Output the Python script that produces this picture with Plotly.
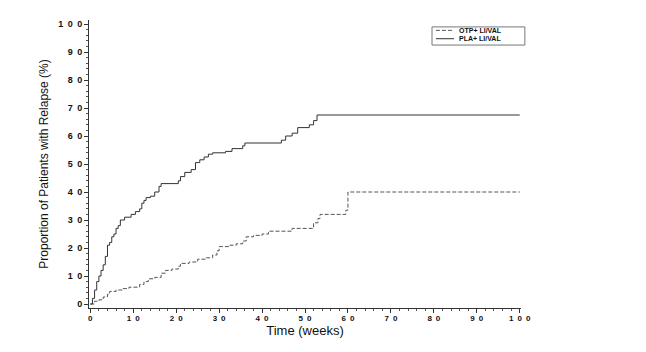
import plotly.graph_objects as go

# Kaplan-Meier style cumulative relapse (% of patients), step functions
pla_weeks = [0, 0.5, 1, 1.5, 2, 2.5, 3, 3.5, 4, 4.5, 5, 5.5, 6, 6.5, 7, 8, 9.5, 10.5, 11.5, 12,
             12.5, 13, 14, 15, 16, 16.5, 20.5, 21, 22, 23.5, 24.5, 25.5, 26.5, 27.5, 28.5, 31.5,
             33, 35.5, 36, 44.5, 45.5, 47, 48.3, 51, 52, 52.8, 100]
pla_pct = [0, 2, 5, 8, 10, 12, 14, 17, 21, 22, 24, 25, 27, 28, 30, 31, 32, 33, 34, 36,
           37, 38, 38.5, 40, 42, 43, 44, 45.5, 47, 48, 50.5, 51.5, 52.5, 53.5, 54, 54.5,
           55.5, 56.5, 57.5, 58.5, 60, 61, 63, 64, 65.5, 67.5, 67.5]

otp_weeks = [0, 1, 2, 3, 4, 4.5, 6, 7.5, 9, 11.5, 12.5, 13.5, 15, 16.5, 17.5, 19, 20.5, 21, 23,
             25, 27, 28.5, 29.5, 30, 32.5, 34, 35.5, 36.3, 38, 40, 41.5, 47, 52, 53, 53.5, 59.5,
             60, 100]
otp_pct = [0, 1, 1.5, 2.5, 3.5, 4.5, 5, 5.5, 6, 7, 8, 9, 9.5, 11, 12, 12.5, 13.5, 14.5, 15,
           16, 16.5, 17.5, 19, 20.5, 21, 21.5, 22.5, 24, 24.5, 25, 26, 27, 29, 30.5, 32, 33.5,
           40, 40]

series_names = ["OTP+ LI/VAL", "PLA+ LI/VAL"]
x_ticks = [0, 10, 20, 30, 40, 50, 60, 70, 80, 90, 100]
y_ticks = [0, 10, 20, 30, 40, 50, 60, 70, 80, 90, 100]


def spaced(v):
    # the original renders tick digits letter-spaced
    return "\u2002".join(str(v))


otp_line = dict(color="#555555", width=1, dash="4px,2px")
pla_line = dict(color="#333333", width=1)

fig = go.Figure()
fig.add_trace(go.Scatter(x=otp_weeks, y=otp_pct, mode="lines", line_shape="hv",
                         name=series_names[0], line=otp_line, showlegend=False))
fig.add_trace(go.Scatter(x=pla_weeks, y=pla_pct, mode="lines", line_shape="hv",
                         name=series_names[1], line=pla_line, showlegend=False))

# compact legend box (drawn in paper coordinates)
fig.add_shape(type="rect", xref="paper", yref="paper", x0=0.794, x1=1.009, y0=0.913, y1=0.976,
              line=dict(color="#777777", width=1), fillcolor="white")
legend_rows = [(0.964, otp_line, series_names[0]), (0.935, pla_line, series_names[1])]
for ypos, ln, label in legend_rows:
    fig.add_shape(type="line", xref="paper", yref="paper", x0=0.803, x1=0.845, y0=ypos, y1=ypos,
                  line=ln)
    fig.add_annotation(xref="paper", yref="paper", x=0.852, y=ypos, xanchor="left", yanchor="middle",
                       text=label, showarrow=False,
                       font=dict(family="Liberation Sans, Arial", size=7, color="#111111", weight="bold"))

xtickfont = dict(family="Liberation Sans, Arial", size=8, color="#111111", weight="bold")
ytickfont = dict(family="Liberation Sans, Arial", size=9, color="#111111", weight="bold")

fig.update_layout(
    width=646, height=352,
    margin=dict(l=89, r=125, t=20, b=44),
    paper_bgcolor="white", plot_bgcolor="white",
    showlegend=False,
    xaxis=dict(range=[-0.3, 100.3], tickvals=x_ticks, ticktext=[spaced(v) for v in x_ticks],
               showline=True, linecolor="#333333", linewidth=1, showgrid=False, zeroline=False,
               ticks="outside", ticklen=4, tickcolor="#333333", tickfont=xtickfont,
               ticklabelstandoff=-2,
               minor=dict(dtick=2, tick0=0, ticks="outside", ticklen=2, tickcolor="#555555", showgrid=False),
               title=dict(text="Time (weeks)", font=dict(family="Liberation Sans, Arial", size=13, color="#111111"),
                          standoff=4)),
    yaxis=dict(range=[-1.43, 101.43], tickvals=y_ticks, ticktext=[spaced(v) for v in y_ticks],
               showline=True, linecolor="#333333", linewidth=1, showgrid=False, zeroline=False,
               ticks="outside", ticklen=4, tickcolor="#333333", tickfont=ytickfont,
               minor=dict(dtick=2, tick0=0, ticks="outside", ticklen=2, tickcolor="#555555", showgrid=False),
               title=dict(text="Proportion of Patients with Relapse (%)",
                          font=dict(family="Liberation Sans, Arial", size=12, color="#111111"),
                          standoff=6)),
)

fig.write_html("out.html")
